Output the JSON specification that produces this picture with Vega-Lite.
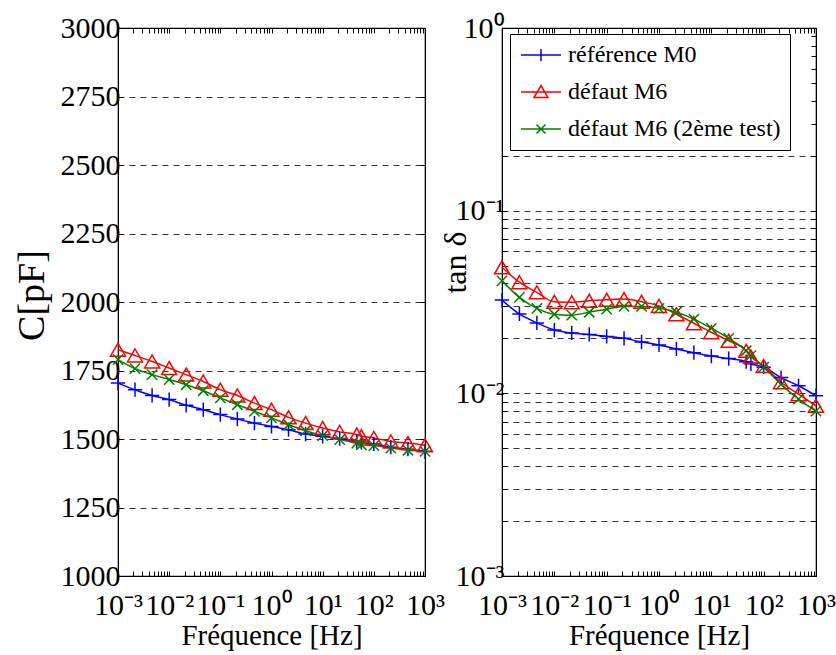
{
  "$schema": "https://vega.github.io/schema/vega-lite/v6.json",
  "background": "white",
  "padding": {"left": 12, "top": 12, "right": 5, "bottom": 5},
  "bounds": "flush",
  "spacing": 77,
  "config": {
    "font": "Liberation Serif",
    "view": {"stroke": "black", "strokeWidth": 1.2},
    "axis": {
      "labelFont": "Liberation Serif", "titleFont": "Liberation Serif",
      "labelFontSize": 30, "titleFontSize": 29, "titleFontWeight": "normal",
      "labelColor": "black", "titleColor": "black",
      "domainColor": "black", "tickColor": "black",
      "gridColor": "#333333", "gridDash": [6, 5], "gridOpacity": 1,
      "tickSize": -5, "labelOverlap": false, "labelFlush": false
    }
  },
  "resolve": {
    "scale": {"color": "independent", "shape": "independent", "size": "independent"},
    "legend": {"color": "independent", "shape": "independent", "size": "independent"}
  },
  "datasets": {
    "d": [
      {"f": 0.001, "s": "référence M0", "C": 1704, "T": 0.0324},
      {"f": 0.00215, "s": "référence M0", "C": 1680, "T": 0.0272},
      {"f": 0.00464, "s": "référence M0", "C": 1659, "T": 0.0243},
      {"f": 0.01, "s": "référence M0", "C": 1644, "T": 0.0222},
      {"f": 0.0215, "s": "référence M0", "C": 1623, "T": 0.0214},
      {"f": 0.0464, "s": "référence M0", "C": 1607, "T": 0.0210},
      {"f": 0.1, "s": "référence M0", "C": 1589, "T": 0.0205},
      {"f": 0.215, "s": "référence M0", "C": 1573, "T": 0.0200},
      {"f": 0.464, "s": "référence M0", "C": 1558, "T": 0.0191},
      {"f": 1, "s": "référence M0", "C": 1546, "T": 0.0184},
      {"f": 2.15, "s": "référence M0", "C": 1534, "T": 0.0175},
      {"f": 4.64, "s": "référence M0", "C": 1518, "T": 0.0167},
      {"f": 10, "s": "référence M0", "C": 1510, "T": 0.0160},
      {"f": 21.5, "s": "référence M0", "C": 1501, "T": 0.0155},
      {"f": 46.4, "s": "référence M0", "C": 1491, "T": 0.0149},
      {"f": 57, "s": "référence M0", "C": 1488, "T": 0.0145},
      {"f": 100, "s": "référence M0", "C": 1482, "T": 0.0139},
      {"f": 215, "s": "référence M0", "C": 1470, "T": 0.0122},
      {"f": 464, "s": "référence M0", "C": 1463, "T": 0.0110},
      {"f": 1000, "s": "référence M0", "C": 1455, "T": 0.0097},
      {"f": 0.001, "s": "défaut M6", "C": 1826, "T": 0.049},
      {"f": 0.00215, "s": "défaut M6", "C": 1805, "T": 0.0406},
      {"f": 0.00464, "s": "défaut M6", "C": 1783, "T": 0.0357},
      {"f": 0.01, "s": "défaut M6", "C": 1759, "T": 0.0317},
      {"f": 0.0215, "s": "défaut M6", "C": 1735, "T": 0.0315},
      {"f": 0.0464, "s": "défaut M6", "C": 1710, "T": 0.0321},
      {"f": 0.1, "s": "défaut M6", "C": 1680, "T": 0.0325},
      {"f": 0.215, "s": "défaut M6", "C": 1659, "T": 0.0328},
      {"f": 0.464, "s": "défaut M6", "C": 1631, "T": 0.0317},
      {"f": 1, "s": "défaut M6", "C": 1607, "T": 0.0301},
      {"f": 2.15, "s": "défaut M6", "C": 1579, "T": 0.0271},
      {"f": 4.64, "s": "défaut M6", "C": 1558, "T": 0.0242},
      {"f": 10, "s": "défaut M6", "C": 1540, "T": 0.0216},
      {"f": 21.5, "s": "défaut M6", "C": 1526, "T": 0.0194},
      {"f": 46.4, "s": "défaut M6", "C": 1516, "T": 0.0171},
      {"f": 57, "s": "défaut M6", "C": 1510, "T": 0.0159},
      {"f": 100, "s": "défaut M6", "C": 1504, "T": 0.0141},
      {"f": 215, "s": "défaut M6", "C": 1491, "T": 0.0115},
      {"f": 464, "s": "défaut M6", "C": 1485, "T": 0.0099},
      {"f": 1000, "s": "défaut M6", "C": 1477, "T": 0.00855},
      {"f": 0.001, "s": "défaut M6 (2ème test)", "C": 1790, "T": 0.0413},
      {"f": 0.00215, "s": "défaut M6 (2ème test)", "C": 1757, "T": 0.0335},
      {"f": 0.00464, "s": "défaut M6 (2ème test)", "C": 1735, "T": 0.0292},
      {"f": 0.01, "s": "défaut M6 (2ème test)", "C": 1717, "T": 0.0271},
      {"f": 0.0215, "s": "défaut M6 (2ème test)", "C": 1698, "T": 0.0268},
      {"f": 0.0464, "s": "défaut M6 (2ème test)", "C": 1676, "T": 0.0278},
      {"f": 0.1, "s": "défaut M6 (2ème test)", "C": 1650, "T": 0.0289},
      {"f": 0.215, "s": "défaut M6 (2ème test)", "C": 1625, "T": 0.0299},
      {"f": 0.464, "s": "défaut M6 (2ème test)", "C": 1601, "T": 0.0299},
      {"f": 1, "s": "défaut M6 (2ème test)", "C": 1577, "T": 0.0292},
      {"f": 2.15, "s": "défaut M6 (2ème test)", "C": 1552, "T": 0.0278},
      {"f": 4.64, "s": "défaut M6 (2ème test)", "C": 1530, "T": 0.0255},
      {"f": 10, "s": "défaut M6 (2ème test)", "C": 1512, "T": 0.0227},
      {"f": 21.5, "s": "défaut M6 (2ème test)", "C": 1498, "T": 0.0200},
      {"f": 46.4, "s": "défaut M6 (2ème test)", "C": 1485, "T": 0.0171},
      {"f": 57, "s": "défaut M6 (2ème test)", "C": 1479, "T": 0.0161},
      {"f": 100, "s": "défaut M6 (2ème test)", "C": 1476, "T": 0.0139},
      {"f": 215, "s": "défaut M6 (2ème test)", "C": 1467, "T": 0.0112},
      {"f": 464, "s": "défaut M6 (2ème test)", "C": 1459, "T": 0.0093},
      {"f": 1000, "s": "défaut M6 (2ème test)", "C": 1455, "T": 0.0080}
    ]
  },
  "hconcat": [
    {
      "width": 307, "height": 548,
      "data": {"name": "d"},
      "resolve": {"axis": {"x": "independent", "y": "independent"}},
      "layer": [
        {
          "mark": {"type": "line", "interpolate": "monotone", "strokeWidth": 1.5},
          "encoding": {
            "x": {"field": "f", "type": "quantitative", "scale": {"type": "log", "domain": [0.001, 1000]},
              "axis": {"title": "Fréquence [Hz]", "grid": false, "labelPadding": 19, "titlePadding": 1,
                "values": [0.001,0.002,0.003,0.004,0.005,0.006,0.007,0.008,0.009,0.01,0.02,0.03,0.04,0.05,0.06,0.07,0.08,0.09,0.1,0.2,0.3,0.4,0.5,0.6,0.7,0.8,0.9,1,2,3,4,5,6,7,8,9,10,20,30,40,50,60,70,80,90,100,200,300,400,500,600,700,800,900,1000],
                "labelExpr": "datum.value===0.001?'10⁻³':datum.value===0.01?'10⁻²':datum.value===0.1?'10⁻¹':datum.value===1?'10⁰':datum.value===10?'10¹':datum.value===100?'10²':datum.value===1000?'10³':''"}},
            "y": {"field": "C", "type": "quantitative", "scale": {"domain": [1000, 3000]},
              "axis": {"title": "C[pF]", "titleFontSize": 38, "grid": true, "labelPadding": 3, "format": "d",
                "titleX": -67, "titleY": 267,
                "values": [1000,1250,1500,1750,2000,2250,2500,2750,3000]}},
            "color": {"field": "s", "type": "nominal", "legend": null,
              "scale": {"domain": ["référence M0", "défaut M6", "défaut M6 (2ème test)"], "range": ["#0000ff", "#ff0000", "#008000"]}}
          }
        },
        {
          "mark": {"type": "point", "filled": false, "strokeWidth": 1.5, "opacity": 1},
          "encoding": {
            "x": {"field": "f", "type": "quantitative", "axis": null},
            "y": {"field": "C", "type": "quantitative", "axis": null},
            "color": {"field": "s", "type": "nominal", "legend": null},
            "shape": {"field": "s", "type": "nominal", "legend": null,
              "scale": {"range": ["triangle-up", "M-0.7,-0.7L0.7,0.7M-0.7,0.7L0.7,-0.7", "M-1,0H1M0,-1V1"]}},
            "size": {"field": "s", "type": "nominal", "legend": null,
              "scale": {"range": [225, 204, 169]}}
          }
        },
        {
          "mark": {"type": "point", "opacity": 0},
          "encoding": {
            "x": {"field": "f", "type": "quantitative",
              "axis": {"orient": "top", "labels": false, "title": null, "grid": false,
                "values": [0.001,0.002,0.003,0.004,0.005,0.006,0.007,0.008,0.009,0.01,0.02,0.03,0.04,0.05,0.06,0.07,0.08,0.09,0.1,0.2,0.3,0.4,0.5,0.6,0.7,0.8,0.9,1,2,3,4,5,6,7,8,9,10,20,30,40,50,60,70,80,90,100,200,300,400,500,600,700,800,900,1000]}},
            "y": {"field": "C", "type": "quantitative",
              "axis": {"orient": "right", "labels": false, "title": null, "grid": false,
                "values": [1000,1250,1500,1750,2000,2250,2500,2750,3000]}}
          }
        }
      ]
    },
    {
      "width": 314, "height": 548,
      "data": {"name": "d"},
      "resolve": {"axis": {"x": "independent", "y": "independent"}},
      "layer": [
        {
          "mark": {"type": "line", "interpolate": "monotone", "strokeWidth": 1.5},
          "encoding": {
            "x": {"field": "f", "type": "quantitative", "scale": {"type": "log", "domain": [0.001, 1000]},
              "axis": {"title": "Fréquence [Hz]", "grid": false, "labelPadding": 19, "titlePadding": 1,
                "values": [0.001,0.002,0.003,0.004,0.005,0.006,0.007,0.008,0.009,0.01,0.02,0.03,0.04,0.05,0.06,0.07,0.08,0.09,0.1,0.2,0.3,0.4,0.5,0.6,0.7,0.8,0.9,1,2,3,4,5,6,7,8,9,10,20,30,40,50,60,70,80,90,100,200,300,400,500,600,700,800,900,1000],
                "labelExpr": "datum.value===0.001?'10⁻³':datum.value===0.01?'10⁻²':datum.value===0.1?'10⁻¹':datum.value===1?'10⁰':datum.value===10?'10¹':datum.value===100?'10²':datum.value===1000?'10³':''"}},
            "y": {"field": "T", "type": "quantitative", "scale": {"type": "log", "domain": [0.001, 1]},
              "axis": {"title": "tan δ", "titleFontSize": 32, "grid": true, "labelPadding": 3,
                "titleX": -30, "titleY": 234,
                "values": [0.001,0.002,0.003,0.004,0.005,0.006,0.007,0.008,0.009,0.01,0.02,0.03,0.04,0.05,0.06,0.07,0.08,0.09,0.1,0.2,1],
                "labelExpr": "datum.value===0.001?'10⁻³':datum.value===0.01?'10⁻²':datum.value===0.1?'10⁻¹':datum.value===1?'10⁰':''"}},
            "color": {"field": "s", "type": "nominal",
              "scale": {"domain": ["référence M0", "défaut M6", "défaut M6 (2ème test)"], "range": ["#0000ff", "#ff0000", "#008000"]},
              "legend": {"title": null, "orient": "none", "legendX": 8, "legendY": 6,
                "fillColor": "white", "strokeColor": "black", "padding": 9,
                "labelFont": "Liberation Serif", "labelFontSize": 24, "labelColor": "black", "labelLimit": 400,
                "symbolSize": 400, "labelOffset": 25, "rowPadding": 13, "symbolStrokeWidth": 1.5,
                "encode": {"symbols": {"update": {
                  "shape": {"signal": "datum.value === 'référence M0' ? 'M-1,0H3M1,-0.6V0.6' : datum.value === 'défaut M6' ? 'M-1,0H3M0.3,0.55L1,-0.65L1.7,0.55Z' : 'M-1,0H3M0.55,-0.45L1.45,0.45M0.55,0.45L1.45,-0.45'"},
                  "fill": {"value": "transparent"},
                  "size": {"value": 400},
                  "strokeWidth": {"value": 1.5}}}}}}
          }
        },
        {
          "mark": {"type": "point", "filled": false, "strokeWidth": 1.5, "opacity": 1},
          "encoding": {
            "x": {"field": "f", "type": "quantitative", "axis": null},
            "y": {"field": "T", "type": "quantitative", "axis": null},
            "color": {"field": "s", "type": "nominal"},
            "shape": {"field": "s", "type": "nominal", "legend": null,
              "scale": {"range": ["triangle-up", "M-0.7,-0.7L0.7,0.7M-0.7,0.7L0.7,-0.7", "M-1,0H1M0,-1V1"]}},
            "size": {"field": "s", "type": "nominal", "legend": null,
              "scale": {"range": [225, 204, 169]}}
          }
        },
        {
          "mark": {"type": "point", "opacity": 0},
          "encoding": {
            "x": {"field": "f", "type": "quantitative",
              "axis": {"orient": "top", "labels": false, "title": null, "grid": false,
                "values": [0.001,0.002,0.003,0.004,0.005,0.006,0.007,0.008,0.009,0.01,0.02,0.03,0.04,0.05,0.06,0.07,0.08,0.09,0.1,0.2,0.3,0.4,0.5,0.6,0.7,0.8,0.9,1,2,3,4,5,6,7,8,9,10,20,30,40,50,60,70,80,90,100,200,300,400,500,600,700,800,900,1000]}},
            "y": {"field": "T", "type": "quantitative",
              "axis": {"orient": "right", "labels": false, "title": null, "grid": false,
                "values": [0.001,0.002,0.003,0.004,0.005,0.006,0.007,0.008,0.009,0.01,0.02,0.03,0.04,0.05,0.06,0.07,0.08,0.09,0.1,0.2,0.3,0.4,0.5,0.6,0.7,0.8,0.9,1]}}
          }
        }
      ]
    }
  ]
}
